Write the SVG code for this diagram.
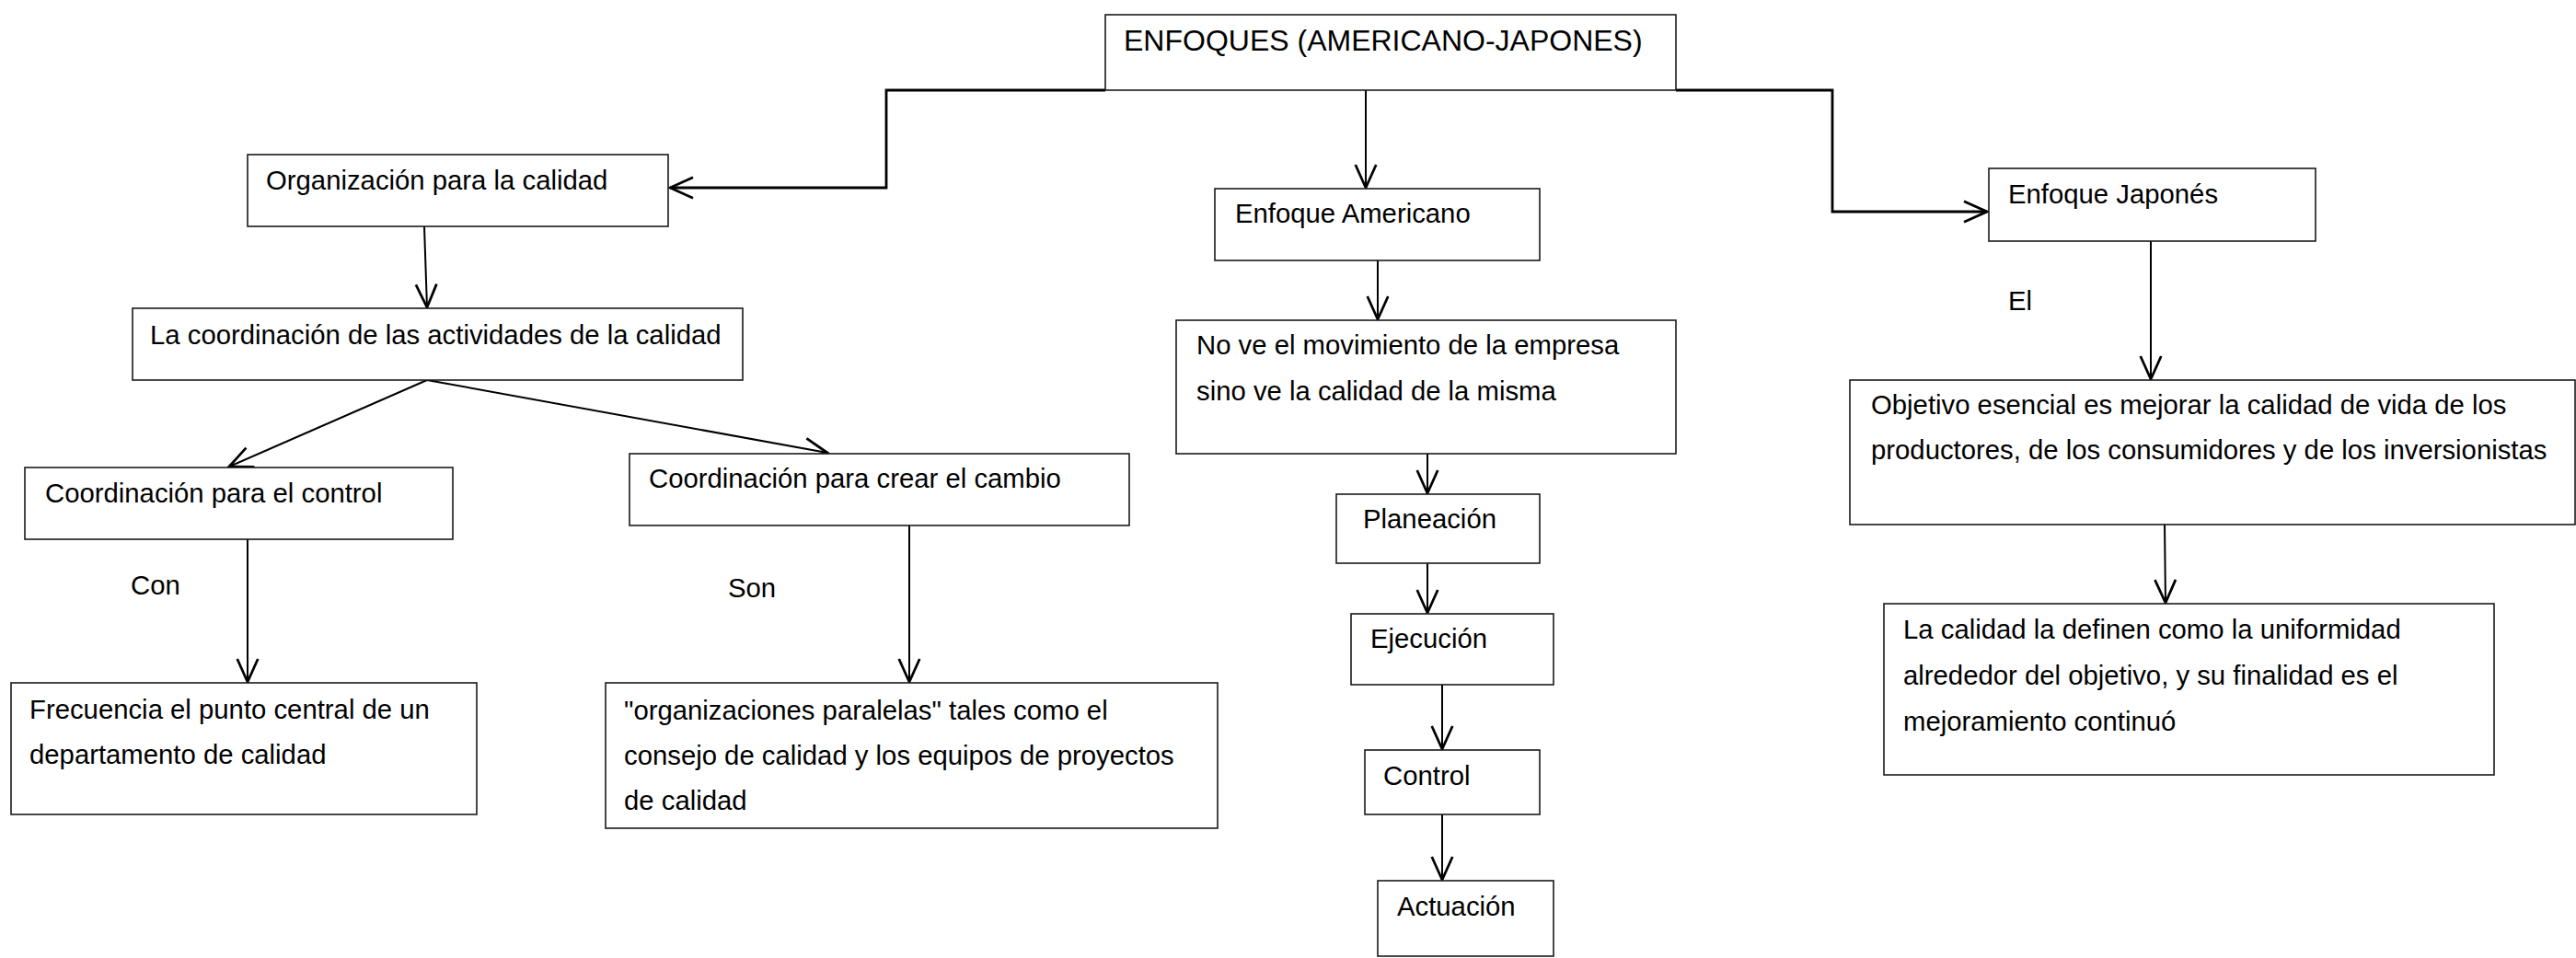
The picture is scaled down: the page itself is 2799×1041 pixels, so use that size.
<svg xmlns="http://www.w3.org/2000/svg" width="2799" height="1041" viewBox="0 0 2799 1041">
<style>
.box{fill:#fff;stroke:#1a1a1a;stroke-width:1.6}
.t{font-family:"Liberation Sans",Arial,sans-serif;font-size:29.3px;fill:#000}
.big{font-size:32px}
.c{fill:none;stroke:#000;stroke-width:2}
.thick{stroke-width:2.8}
</style>
<defs>
<marker id="ah" markerUnits="userSpaceOnUse" markerWidth="30" markerHeight="30" viewBox="-22 -12 24 24" refX="0" refY="0" orient="auto">
<path d="M-20,-9 L0,0 L-20,9" fill="none" stroke="#000" stroke-width="2.2"/>
</marker>
</defs>
<rect width="2799" height="1041" fill="#fff"/>
<g id="connectors">
<path class="c thick" d="M1201,98 H963 V204 H728" marker-end="url(#ah)"/>
<path class="c thick" d="M1821,98 H1991 V230 H2159" marker-end="url(#ah)"/>
<path class="c" d="M1484,98 V204" marker-end="url(#ah)"/>
<path class="c" d="M461,246 L464,334" marker-end="url(#ah)"/>
<path class="c" d="M464,413 L249,507" marker-end="url(#ah)"/>
<path class="c" d="M464,413 L899,492" marker-end="url(#ah)"/>
<path class="c" d="M269,586 V741" marker-end="url(#ah)"/>
<path class="c" d="M988,571 V741" marker-end="url(#ah)"/>
<path class="c" d="M1497,283 V347" marker-end="url(#ah)"/>
<path class="c" d="M1551,493 V536" marker-end="url(#ah)"/>
<path class="c" d="M1551,612 V666" marker-end="url(#ah)"/>
<path class="c" d="M1567,744 V814" marker-end="url(#ah)"/>
<path class="c" d="M1567,885 V956" marker-end="url(#ah)"/>
<path class="c" d="M2337,262 V412" marker-end="url(#ah)"/>
<path class="c" d="M2352,570 L2353,655" marker-end="url(#ah)"/>
<text class="t" x="142" y="646">Con</text>
<text class="t" x="791" y="649">Son</text>
<text class="t" x="2182" y="337">El</text>
</g>
<g id="enfoques"><rect class="box" x="1201" y="16" width="620" height="82"/><text class="t big" x="1221" y="55">ENFOQUES (AMERICANO-JAPONES)</text></g>
<g id="organizacion"><rect class="box" x="269" y="168" width="457" height="78"/><text class="t" x="289" y="206">Organización para la calidad</text></g>
<g id="coordinacion"><rect class="box" x="144" y="335" width="663" height="78"/><text class="t" x="163" y="374">La coordinación de las actividades de la calidad</text></g>
<g id="coord-control"><rect class="box" x="27" y="508" width="465" height="78"/><text class="t" x="49" y="546">Coordinación para el control</text></g>
<g id="coord-cambio"><rect class="box" x="684" y="493" width="543" height="78"/><text class="t" x="705" y="530">Coordinación para crear el cambio</text></g>
<g id="frecuencia"><rect class="box" x="12" y="742" width="506" height="143"/><text class="t" x="32" y="781">Frecuencia el punto central de un</text><text class="t" x="32" y="830">departamento de calidad</text></g>
<g id="organizaciones"><rect class="box" x="658" y="742" width="665" height="158"/><text class="t" x="678" y="782">"organizaciones paralelas" tales como el</text><text class="t" x="678" y="831">consejo de calidad y los equipos de proyectos</text><text class="t" x="678" y="880">de calidad</text></g>
<g id="americano"><rect class="box" x="1320" y="205" width="353" height="78"/><text class="t" x="1342" y="242">Enfoque Americano</text></g>
<g id="nove"><rect class="box" x="1278" y="348" width="543" height="145"/><text class="t" x="1300" y="385">No ve el movimiento de la empresa</text><text class="t" x="1300" y="435">sino ve la calidad de la misma</text></g>
<g id="planeacion"><rect class="box" x="1452" y="537" width="221" height="75"/><text class="t" x="1481" y="574">Planeación</text></g>
<g id="ejecucion"><rect class="box" x="1468" y="667" width="220" height="77"/><text class="t" x="1489" y="704">Ejecución</text></g>
<g id="control"><rect class="box" x="1483" y="815" width="190" height="70"/><text class="t" x="1503" y="853">Control</text></g>
<g id="actuacion"><rect class="box" x="1497" y="957" width="191" height="82"/><text class="t" x="1518" y="995">Actuación</text></g>
<g id="japones"><rect class="box" x="2161" y="183" width="355" height="79"/><text class="t" x="2182" y="221">Enfoque Japonés</text></g>
<g id="objetivo"><rect class="box" x="2010" y="413" width="788" height="157"/><text class="t" x="2033" y="450">Objetivo esencial es mejorar la calidad de vida de los</text><text class="t" x="2033" y="499">productores, de los consumidores y de los inversionistas</text></g>
<g id="lacalidad"><rect class="box" x="2047" y="656" width="663" height="186"/><text class="t" x="2068" y="694">La calidad la definen como la uniformidad</text><text class="t" x="2068" y="744">alrededor del objetivo, y su finalidad es el</text><text class="t" x="2068" y="794">mejoramiento continuó</text></g>
</svg>
